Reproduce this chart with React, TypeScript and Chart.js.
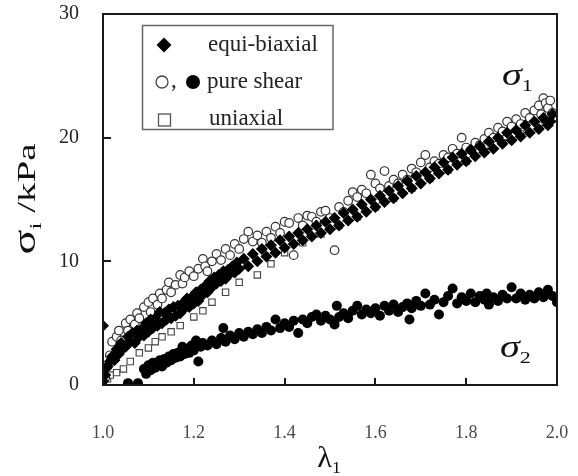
import React, { useEffect, useRef } from "react";
import { Chart, registerables } from "chart.js";

Chart.register(...registerables);

const SERIF = '"Liberation Serif", "Times New Roman", Times, serif';

// [lambda_1, sigma / kPa]
const equiBiaxial: [number, number][] = [
  [1.0, 0.3], [1.0, 4.8], [1.005, 0.8], [1.01, 1.5], [1.015, 1.9], [1.02, 2.3], [1.025, 2.0], [1.03, 2.9],
  [1.035, 2.5], [1.04, 3.4], [1.045, 3.0], [1.05, 3.1], [1.055, 3.9], [1.06, 3.5], [1.065, 4.2], [1.07, 3.4],
  [1.075, 4.4], [1.08, 3.9], [1.085, 4.5], [1.09, 4.0], [1.095, 5.0], [1.1, 4.3], [1.105, 5.3], [1.11, 4.6],
  [1.115, 5.4], [1.12, 4.8], [1.125, 5.9], [1.13, 5.0], [1.135, 5.8], [1.14, 5.3], [1.145, 6.1], [1.15, 5.4],
  [1.155, 6.3], [1.16, 5.6], [1.165, 6.4], [1.17, 5.8], [1.175, 6.6], [1.18, 6.2], [1.185, 7.0], [1.19, 6.3],
  [1.195, 7.1], [1.2, 6.6], [1.205, 7.5], [1.21, 6.8], [1.215, 7.7], [1.22, 7.3], [1.225, 8.0], [1.23, 7.5],
  [1.235, 8.4], [1.24, 7.9], [1.245, 8.7], [1.25, 8.2], [1.255, 8.9], [1.26, 8.4], [1.265, 9.2], [1.27, 8.6],
  [1.275, 9.3], [1.28, 9.0], [1.285, 9.6], [1.29, 9.1], [1.295, 9.9], [1.3, 9.4], [1.31, 10.2], [1.32, 9.6],
  [1.33, 10.6], [1.34, 10.0], [1.35, 11.0], [1.36, 10.4], [1.37, 11.3], [1.38, 10.7], [1.39, 11.7], [1.4, 11.1],
  [1.41, 12.0], [1.42, 11.4], [1.43, 12.3], [1.44, 11.7], [1.45, 12.6], [1.46, 12.0], [1.47, 12.9], [1.48, 12.3],
  [1.49, 13.2], [1.5, 12.6], [1.51, 13.5], [1.52, 12.9], [1.53, 13.9], [1.54, 13.3], [1.55, 14.2], [1.56, 13.6],
  [1.57, 14.6], [1.58, 14.0], [1.59, 15.0], [1.6, 14.4], [1.61, 15.3], [1.62, 14.8], [1.63, 15.7], [1.64, 15.1],
  [1.65, 16.1], [1.66, 15.5], [1.67, 16.5], [1.68, 15.9], [1.69, 16.9], [1.7, 16.3], [1.71, 17.2], [1.72, 16.7],
  [1.73, 17.6], [1.74, 17.1], [1.75, 18.0], [1.76, 17.4], [1.77, 18.4], [1.78, 17.8], [1.79, 18.7], [1.8, 18.1],
  [1.81, 19.0], [1.82, 18.5], [1.83, 19.3], [1.84, 18.8], [1.85, 19.7], [1.86, 19.1], [1.87, 20.0], [1.88, 19.5],
  [1.89, 20.4], [1.9, 19.8], [1.91, 20.6], [1.92, 20.1], [1.93, 21.0], [1.94, 20.4], [1.95, 21.3], [1.96, 20.7],
  [1.97, 21.6], [1.98, 21.0], [1.99, 21.9], [1.985, 21.3],
];

const pureShearSigma1: [number, number][] = [
  [1.0, 0.4], [1.005, 0.6], [1.01, 1.5], [1.015, 2.4], [1.02, 3.5], [1.03, 3.9], [1.035, 4.4], [1.04, 3.6],
  [1.05, 5.0], [1.055, 4.4], [1.06, 5.3], [1.07, 4.9], [1.075, 5.8], [1.08, 5.4], [1.09, 6.3], [1.1, 6.7],
  [1.105, 5.9], [1.11, 7.0], [1.12, 6.5], [1.125, 7.4], [1.13, 7.0], [1.14, 7.7], [1.145, 8.3], [1.15, 7.5],
  [1.16, 8.1], [1.17, 8.9], [1.175, 8.2], [1.18, 8.7], [1.19, 9.2], [1.2, 8.8], [1.21, 9.4], [1.22, 10.2],
  [1.225, 9.6], [1.23, 9.2], [1.24, 10.0], [1.25, 10.6], [1.26, 10.1], [1.27, 11.0], [1.28, 10.5], [1.29, 11.4],
  [1.3, 11.0], [1.31, 11.8], [1.32, 12.4], [1.33, 11.6], [1.34, 12.1], [1.35, 11.5], [1.36, 12.4], [1.37, 11.9],
  [1.38, 12.8], [1.39, 12.3], [1.4, 13.2], [1.41, 13.1], [1.42, 10.5], [1.43, 13.5], [1.44, 12.9], [1.45, 13.7],
  [1.46, 13.6], [1.47, 13.2], [1.48, 14.0], [1.49, 14.1], [1.5, 13.5], [1.51, 10.9], [1.52, 14.4], [1.53, 14.0],
  [1.54, 14.9], [1.55, 15.6], [1.56, 15.2], [1.57, 15.8], [1.58, 15.5], [1.59, 17.0], [1.6, 16.3], [1.61, 15.9],
  [1.62, 17.3], [1.63, 16.1], [1.64, 16.6], [1.65, 16.3], [1.66, 17.0], [1.67, 16.6], [1.68, 17.5], [1.69, 17.2],
  [1.7, 18.0], [1.71, 18.6], [1.72, 17.6], [1.73, 18.1], [1.74, 17.9], [1.75, 18.6], [1.76, 18.4], [1.77, 19.1],
  [1.78, 18.7], [1.79, 20.0], [1.8, 19.2], [1.81, 19.0], [1.82, 19.6], [1.83, 19.4], [1.84, 19.9], [1.85, 20.4],
  [1.86, 20.0], [1.87, 20.8], [1.88, 20.5], [1.89, 21.3], [1.9, 20.9], [1.91, 21.5], [1.92, 21.1], [1.93, 22.0],
  [1.94, 21.6], [1.95, 22.2], [1.96, 22.6], [1.965, 21.9], [1.97, 23.2], [1.975, 22.8], [1.98, 22.4], [1.985, 23.0],
  [1.99, 22.0], [2.0, 21.7],
];

const pureShearSigma2: [number, number][] = [
  [1.055, 0.15], [1.077, 0.15], [1.09, 1.3], [1.095, 0.9], [1.1, 1.6], [1.105, 1.2], [1.11, 1.8], [1.115, 1.4],
  [1.12, 1.7], [1.125, 2.0], [1.13, 1.5], [1.135, 2.1], [1.14, 1.8], [1.145, 2.3], [1.15, 2.0], [1.155, 2.5],
  [1.16, 2.2], [1.165, 2.6], [1.17, 2.3], [1.175, 3.1], [1.18, 2.5], [1.185, 2.9], [1.19, 2.6], [1.195, 3.2],
  [1.2, 2.8], [1.205, 3.6], [1.21, 1.9], [1.215, 3.1], [1.22, 3.4], [1.23, 3.2], [1.24, 3.6], [1.25, 3.3],
  [1.26, 3.8], [1.265, 4.6], [1.27, 3.5], [1.28, 4.0], [1.29, 3.7], [1.3, 4.2], [1.31, 3.9], [1.32, 4.3],
  [1.33, 4.1], [1.34, 4.5], [1.35, 4.2], [1.36, 4.7], [1.37, 4.4], [1.38, 5.3], [1.39, 4.6], [1.4, 5.0],
  [1.41, 4.7], [1.42, 5.2], [1.43, 4.2], [1.44, 5.3], [1.45, 5.0], [1.46, 5.5], [1.47, 5.7], [1.48, 5.2],
  [1.49, 5.6], [1.5, 5.3], [1.51, 4.9], [1.515, 6.4], [1.52, 5.5], [1.53, 5.8], [1.54, 5.4], [1.55, 6.0],
  [1.56, 6.4], [1.57, 5.7], [1.58, 6.1], [1.59, 5.8], [1.6, 6.2], [1.61, 5.6], [1.62, 6.4], [1.63, 6.0],
  [1.64, 6.5], [1.65, 5.9], [1.66, 6.3], [1.67, 6.6], [1.675, 5.3], [1.68, 6.2], [1.69, 6.8], [1.7, 6.4],
  [1.71, 7.4], [1.72, 6.5], [1.73, 6.9], [1.74, 5.7], [1.75, 6.7], [1.76, 7.2], [1.77, 7.8], [1.78, 6.6],
  [1.79, 7.1], [1.8, 6.8], [1.81, 7.4], [1.82, 6.7], [1.83, 7.2], [1.84, 6.9], [1.845, 7.4], [1.85, 6.5],
  [1.86, 7.1], [1.87, 6.8], [1.88, 7.3], [1.89, 7.0], [1.9, 7.9], [1.91, 7.0], [1.92, 7.4], [1.93, 6.9],
  [1.94, 7.3], [1.95, 7.0], [1.96, 7.5], [1.97, 7.1], [1.98, 7.7], [1.99, 7.2], [2.0, 6.7],
];

const uniaxial: [number, number][] = [
  [1.0, 0.2], [1.01, 0.5], [1.016, 0.8], [1.03, 1.0], [1.045, 1.3], [1.06, 1.9], [1.08, 2.6], [1.1, 3.0],
  [1.115, 3.5], [1.13, 3.9], [1.15, 4.3], [1.17, 4.8], [1.2, 5.5], [1.22, 6.0], [1.24, 6.7], [1.27, 7.5],
  [1.3, 8.3], [1.34, 8.9], [1.37, 9.8], [1.4, 10.7], [1.44, 11.5], [1.48, 12.2], [1.52, 12.9], [1.56, 13.6],
  [1.6, 14.4], [1.64, 15.1], [1.68, 15.9], [1.72, 16.7], [1.76, 17.4], [1.8, 18.1], [1.84, 18.9], [1.88, 19.6],
  [1.92, 20.3], [1.96, 21.0], [1.99, 21.5],
];

const xTickValues = [1.0, 1.2, 1.4, 1.6, 1.8, 2.0];
const yTickValues = [0, 10, 20, 30];
const legendLabels = ["equi-biaxial", "pure shear", "uniaxial"];

const toPoints = (arr: [number, number][]) => arr.map(([x, y]) => ({ x, y }));

type Part = { t: string; size: number; dy?: number; italic?: boolean };

function drawSub(
  ctx: CanvasRenderingContext2D,
  parts: Part[],
  x: number,
  y: number,
  align: "left" | "center" = "left",
  sx = 1
) {
  let total = 0;
  const widths = parts.map((p) => {
    ctx.font = `${p.italic ? "italic " : ""}${p.size}px ${SERIF}`;
    const w = ctx.measureText(p.t).width;
    total += w;
    return w;
  });
  ctx.save();
  ctx.translate(x, y);
  ctx.scale(sx, 1);
  let cx = align === "center" ? -total / 2 : 0;
  parts.forEach((p, i) => {
    ctx.font = `${p.italic ? "italic " : ""}${p.size}px ${SERIF}`;
    ctx.fillText(p.t, cx, p.dy || 0);
    cx += widths[i];
  });
  ctx.restore();
}

const decorPlugin = {
  id: "decor",
  afterDatasetsDraw(chart: any) {
    const { ctx, chartArea: a, scales } = chart;
    ctx.save();
    // frame
    ctx.strokeStyle = "#1a1a1a";
    ctx.lineWidth = 2;
    ctx.strokeRect(a.left, a.top, a.right - a.left, a.bottom - a.top);
    // inward ticks
    ctx.beginPath();
    yTickValues.forEach((v) => {
      const py = Math.round(scales.y.getPixelForValue(v));
      ctx.moveTo(a.left, py);
      ctx.lineTo(a.left + 8, py);
    });
    xTickValues.forEach((v) => {
      const px = Math.round(scales.x.getPixelForValue(v));
      ctx.moveTo(px, a.bottom);
      ctx.lineTo(px, a.bottom - 7);
    });
    ctx.stroke();

    // legend box
    ctx.fillStyle = "#fff";
    ctx.fillRect(142, 25, 191, 104);
    ctx.strokeStyle = "#666";
    ctx.lineWidth = 1.5;
    ctx.strokeRect(142.5, 25.5, 190.5, 104);

    // legend markers
    ctx.fillStyle = "#000";
    ctx.beginPath();
    ctx.moveTo(164, 37.5);
    ctx.lineTo(171.5, 45);
    ctx.lineTo(164, 52.5);
    ctx.lineTo(156.5, 45);
    ctx.closePath();
    ctx.fill();

    ctx.strokeStyle = "#444";
    ctx.lineWidth = 1.3;
    ctx.beginPath();
    ctx.arc(162, 82, 6, 0, Math.PI * 2);
    ctx.stroke();
    ctx.beginPath();
    ctx.arc(193, 82, 7, 0, Math.PI * 2);
    ctx.fill();

    ctx.strokeStyle = "#555";
    ctx.strokeRect(158.5, 114, 12, 12);

    ctx.fillStyle = "#222";
    ctx.textAlign = "left";
    ctx.textBaseline = "alphabetic";
    ctx.font = `23px ${SERIF}`;
    ctx.fillText(",", 171, 87);
    ctx.fillText(legendLabels[0], 208, 51);
    ctx.fillText(legendLabels[1], 207, 88);
    ctx.fillText(legendLabels[2], 209, 125);

    // curve annotations
    ctx.fillStyle = "#111";
    drawSub(ctx, [{ t: "σ", size: 31, italic: true }, { t: "1", size: 17, dy: 6 }], 502, 85, "left", 1.3);
    drawSub(ctx, [{ t: "σ", size: 31, italic: true }, { t: "2", size: 17, dy: 6 }], 500, 357, "left", 1.3);

    // axis titles
    drawSub(ctx, [{ t: "λ", size: 29 }, { t: "1", size: 17, dy: 6 }], 329, 467, "center", 1.05);
    ctx.save();
    ctx.translate(35, 199);
    ctx.rotate(-Math.PI / 2);
    drawSub(
      ctx,
      [{ t: "σ", size: 31 }, { t: "i", size: 17, dy: 6 }, { t: " /kPa", size: 26 }],
      0,
      0,
      "center",
      1.5
    );
    ctx.restore();
    ctx.restore();
  },
};

export default function App() {
  const ref = useRef<HTMLCanvasElement | null>(null);
  useEffect(() => {
    document.body.style.margin = "0";
    if (!ref.current) return;
    const chart = new Chart(ref.current, {
      type: "scatter",
      data: {
        datasets: [
          {
            label: legendLabels[0],
            data: toPoints(equiBiaxial),
            pointStyle: "rectRot",
            pointRadius: 6,
            backgroundColor: "#000",
            borderColor: "#000",
            borderWidth: 0,
          },
          {
            label: legendLabels[1] + " σ2",
            data: toPoints(pureShearSigma2),
            pointStyle: "circle",
            pointRadius: 5,
            backgroundColor: "#000",
            borderColor: "#000",
            borderWidth: 0,
          },
          {
            label: legendLabels[1] + " σ1",
            data: toPoints(pureShearSigma1),
            pointStyle: "circle",
            pointRadius: 4.3,
            backgroundColor: "#fff",
            borderColor: "#333",
            borderWidth: 1.2,
          },
          {
            label: legendLabels[2],
            data: toPoints(uniaxial),
            pointStyle: "rect",
            pointRadius: 4.5,
            backgroundColor: "#fff",
            borderColor: "#444",
            borderWidth: 1.1,
          },
        ],
      },
      options: {
        animation: false,
        responsive: false,
        devicePixelRatio: 1,
        layout: { padding: { top: 14, right: 21, left: 0, bottom: 0 }, autoPadding: false },
        plugins: { legend: { display: false }, tooltip: { enabled: false } },
        scales: {
          x: {
            type: "linear",
            min: 1.0,
            max: 2.0,
            grid: { display: false },
            border: { display: false },
            afterBuildTicks: (s: any) => {
              s.ticks = xTickValues.map((v) => ({ value: v }));
            },
            afterFit: (s: any) => {
              s.height = 91;
              s.paddingLeft = 0;
              s.paddingRight = 0;
            },
            ticks: {
              autoSkip: false,
              maxRotation: 0,
              padding: 29,
              color: "#4a4a4a",
              font: { family: SERIF, size: 18 },
              callback: (v: any) => Number(v).toFixed(1),
            },
          },
          y: {
            type: "linear",
            min: 0,
            max: 30,
            grid: { display: false },
            border: { display: false },
            afterBuildTicks: (s: any) => {
              s.ticks = yTickValues.map((v) => ({ value: v }));
            },
            afterFit: (s: any) => {
              s.width = 103;
              s.paddingTop = 0;
              s.paddingBottom = 0;
            },
            ticks: {
              padding: 16,
              color: "#222",
              font: { family: SERIF, size: 20 },
              callback: (v: any) => String(v),
            },
          },
        },
      },
      plugins: [decorPlugin],
    });
    return () => chart.destroy();
  }, []);
  return (
    <div style={{ width: 578, height: 476, background: "#fff" }}>
      <canvas ref={ref} width={578} height={476} style={{ display: "block" }} />
    </div>
  );
}
